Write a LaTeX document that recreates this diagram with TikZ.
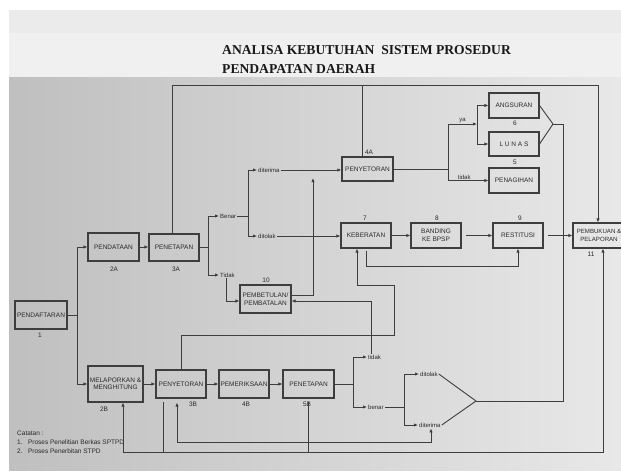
\documentclass[tikz,border=0pt]{standalone}
\usepackage{fontspec}
\setmainfont{Liberation Sans}
\newfontfamily\titlefont{Liberation Serif}
\usetikzlibrary{arrows.meta,calc}
\definecolor{linec}{RGB}{62,62,62}
\definecolor{txtc}{RGB}{40,40,40}
\begin{document}
\begin{tikzpicture}[x=1pt,y=-1pt,
  box/.style={draw=linec, line width=1.1pt, minimum width=50pt, minimum height=25pt, inner sep=0pt,
    font=\fontsize{6.5}{7.5}\selectfont, align=center, text=txtc},
  lbl/.style={font=\fontsize{6}{7}\selectfont, inner sep=1pt, text=txtc},
  num/.style={font=\fontsize{6.5}{7}\selectfont, inner sep=0pt, text=txtc},
  ln/.style={draw=linec, line width=0.9pt},
  arr/.style={ln, -{Latex[length=4pt,width=3.4pt]}},
  barr/.style={ln, {Latex[length=4pt,width=3.4pt]}-{Latex[length=4pt,width=3.4pt]}},
]
\useasboundingbox (0,0) rectangle (621,472);
% background
\fill[white] (0,0) rectangle (621,472);
\shade[left color=black!25, right color=black!9] (9,77) rectangle (621,470);
\shade[left color=black!8, middle color=black!24, right color=black!8] (9,10) rectangle (621,33);
\fill[black!6] (9,33) rectangle (621,77);

% title
\node[anchor=base west, font=\titlefont\bfseries\fontsize{13.6}{16}\selectfont, inner sep=0pt, text=black!90] (title1) at (222,54) {ANALISA KEBUTUHAN\ \ SISTEM PROSEDUR};
\node[anchor=base west, font=\titlefont\bfseries\fontsize{13.6}{16}\selectfont, inner sep=0pt, text=black!90] (title2) at (222,73) {PENDAPATAN DAERAH};

% boxes
\node[box, minimum width=52pt, minimum height=28pt] (pendaftaran) at (41,315) {PENDAFTARAN};
\node[box, minimum width=51pt, minimum height=28pt] (pendataan) at (113.5,247) {PENDATAAN};
\node[box, minimum width=50pt, minimum height=27pt] (penetapanA) at (174,247.5) {PENETAPAN};
\node[box, minimum width=51pt, minimum height=28pt] (pembetulan) at (265.5,299) {PEMBETULAN/\\PEMBATALAN};
\node[box, minimum width=51pt, minimum height=24pt] (penyetoranA) at (367.5,169) {PENYETORAN};
\node[box, minimum height=25pt] (angsuran) at (514,105.5) {ANGSURAN};
\node[box, minimum height=24pt] (lunas) at (514,144) {L U N A S};
\node[box, minimum height=25pt] (penagihan) at (514,180.5) {PENAGIHAN};
\node[box] (keberatan) at (366,235.5) {KEBERATAN};
\node[box] (banding) at (436,235.5) {BANDING\\KE BPSP};
\node[box] (restitusi) at (518,235.5) {RESTITUSI};
\node[box, minimum width=52pt, font=\fontsize{6.1}{7.3}\selectfont] (pembukuan) at (599,235.5) {PEMBUKUAN \&\\PELAPORAN};
\node[box, minimum width=55pt, minimum height=36pt] (melaporkan) at (115.5,384) {MELAPORKAN \&\\MENGHITUNG};
\node[box, minimum height=28pt] (penyetoranB) at (181,384) {PENYETORAN};
\node[box, minimum height=28pt] (pemeriksaan) at (244,384) {PEMERIKSAAN};
\node[box, minimum width=51pt, minimum height=28pt] (penetapanB) at (308.5,384) {PENETAPAN};

% numbers
\node[num] (n1) at (40,335) {1};
\node[num] (n2A) at (114,269) {2A};
\node[num] (n3A) at (176,269) {3A};
\node[num] (n10) at (266,280) {10};
\node[num] (n4A) at (369,152) {4A};
\node[num] (n6) at (515,123) {6};
\node[num] (n5) at (515,162) {5};
\node[num] (n7) at (365,218) {7};
\node[num] (n8) at (437,218) {8};
\node[num] (n9) at (520,218) {9};
\node[num] (n11) at (591,254) {11};
\node[num] (n2B) at (104,409) {2B};
\node[num] (n3B) at (193,404) {3B};
\node[num] (n4B) at (246,404) {4B};
\node[num] (n5B) at (307,404) {5B};

% text labels
\node[lbl, anchor=west] (benarA) at (219,216) {Benar};
\node[lbl, anchor=west] (tidakA) at (219,275) {Tidak};
\node[lbl, anchor=west] (diterimaA) at (257,170) {diterima};
\node[lbl, anchor=west] (ditolakA) at (257,236) {ditolak};
\node[lbl, anchor=west] (tidakB) at (367,357) {tidak};
\node[lbl, anchor=west] (benarB) at (367,407) {benar};
\node[lbl, anchor=west] (ditolakB) at (419,374) {ditolak};
\node[lbl, anchor=west] (diterimaB) at (418,425) {diterima};

% catatan
\node[anchor=west, font=\fontsize{6.5}{9}\selectfont, align=left, inner sep=0pt, text=txtc] (catatan) at (17,442)
  {Catatan :\\1.\ \ \ Proses Penelitian Berkas SPTPD\\2.\ \ \ Proses Penerbitan STPD};

% coordinates
\coordinate (j1) at (77,315);
\coordinate (j2) at (208,247.5);
\coordinate (j3) at (248,216);
\coordinate (t1) at (172,85);
\coordinate (t2) at (598,85);
\coordinate (t3) at (362,85);
\coordinate (j4) at (448,169);
\coordinate (j4t) at (448,124);
\coordinate (j4b) at (448,180.5);
\coordinate (j5) at (477,124);
\coordinate (f1) at (553,124);
\coordinate (f1r) at (563,124);
\coordinate (f2r) at (563,401);
\coordinate (f2) at (476,401);
\coordinate (k1) at (394,335);
\coordinate (k2) at (357,285);
\coordinate (p1) at (313,178);
\coordinate (j7) at (353,384);
\coordinate (j8) at (404,407);
\coordinate (q1) at (177,442);
\coordinate (q2) at (431,442);
\coordinate (b1) at (123,452);
\coordinate (b2) at (603,452);
\coordinate (b3) at (163,452);
\coordinate (b4) at (308,452);

% connectors
\draw[ln] (pendaftaran) -- (j1);
\draw[arr] (j1) |- (pendataan);
\draw[arr] (j1) |- (melaporkan);
\draw[arr] (pendataan.east) -- (pendataan.east -| penetapanA.west);
\draw[ln] (penetapanA) -- (j2);
\draw[arr] (j2) |- (benarA);
\draw[arr] (j2) |- (tidakA);
\draw[ln] (benarA) -- (j3);
\draw[arr] (j3) |- (diterimaA);
\draw[arr] (j3) |- (ditolakA);
\draw[arr] (diterimaA.east) -- (diterimaA.east -| penyetoranA.west);
\draw[arr] (ditolakA.east) -- (ditolakA.east -| keberatan.west);

\draw[arr] (t1 |- penetapanA.north) -- (t1) -- (t2) -- (t2 |- pembukuan.north);
\draw[ln] (t3) -- (t3 |- penyetoranA.north);

\draw[ln] (penyetoranA) -- (j4);
\draw[ln] (j4t) -- (j4b);
\draw[arr] (j4t) -- (j5) node[lbl, midway, above, inner sep=0.5pt] (ya) {ya};
\draw[arr] (j5) |- (angsuran);
\draw[arr] (j5) |- (lunas);
\draw[arr] (j4b) -- (penagihan) node[lbl, pos=0.4, above, inner sep=0.5pt] (tidak6) {tidak};

\draw[ln] (angsuran.east) -- (f1);
\draw[ln] (lunas.east) -- (f1);
\draw[ln] (f1) -- (f1r) -- (f2r) -- (f2);
\draw[ln] (ditolakB.east) -- (f2);
\draw[ln] (diterimaB.east) -- (f2);

\draw[arr] (keberatan) -- (banding);
\draw[arr, shorten <=4pt] (banding) -- (restitusi);
\draw[arr, shorten <=4pt] (restitusi) -- (pembukuan);
\draw[arr] ([yshift=-2pt]keberatan.south) -- ++(0,16) -| (restitusi.south);

\draw[arr] (penyetoranB.north) |- (k1) |- (k2) -- (k2 |- keberatan.south);

\draw[arr] ([yshift=4pt]pembetulan.east) -| (p1);
\draw[arr] ([xshift=4pt]tidakB.north west) |- ([yshift=-2pt]pembetulan.east);
\draw[arr] ([xshift=7pt]tidakA.south west) |- ([yshift=-2pt]pembetulan.west);

\draw[arr] (melaporkan.east) -- (melaporkan.east -| penyetoranB.west);
\draw[arr] (penyetoranB) -- (pemeriksaan);
\draw[arr] (pemeriksaan) -- (penetapanB);
\draw[ln] (penetapanB) -- (j7);
\draw[arr] (j7) |- (tidakB);
\draw[arr] (j7) |- (benarB);
\draw[ln] (benarB) -- (j8);
\draw[arr] (j8) |- (ditolakB);
\draw[arr] (j8) |- (diterimaB);

\draw[barr, shorten <=4pt] (q1 |- penyetoranB.south) -- (q1) -- (q2) -- (q2 |- diterimaB.south);
\draw[barr] (b1 |- melaporkan.south) -- (b1) -- (b2) -- (b2 |- pembukuan.south);
\draw[ln, shorten <=3pt] (b3 |- penyetoranB.south) -- (b3);
\draw[ln, shorten <=3pt] (b4 |- penetapanB.south) -- (b4);
\end{tikzpicture}
\end{document}
